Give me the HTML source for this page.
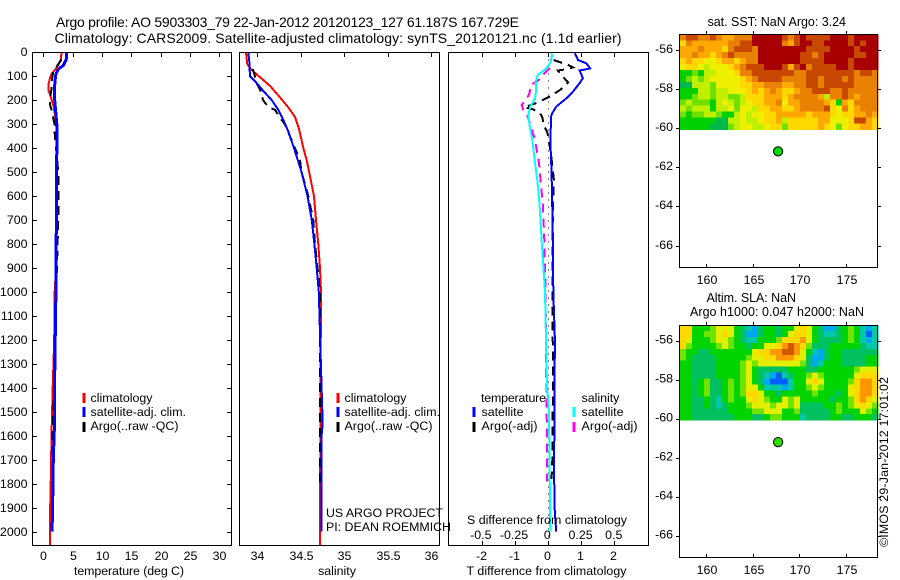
<!DOCTYPE html>
<html>
<head>
<meta charset="utf-8">
<title>Argo profile</title>
<style>
html,body{margin:0;padding:0;background:#fff;}
svg{display:block;}
text{font-family:"Liberation Sans",sans-serif;font-size:12.4px;fill:#000;}
.ttl{font-size:14px;}
.mt{font-size:12.5px;}
.fr{fill:none;stroke:#000;stroke-width:1;}
</style>
</head>
<body>
<svg id="fig" width="900" height="580" viewBox="0 0 900 580" xmlns="http://www.w3.org/2000/svg">
<rect width="900" height="580" fill="#fff"/>
<text class="ttl" x="56" y="27" textLength="463">Argo profile: AO 5903303_79 22-Jan-2012 20120123_127 61.187S 167.729E</text>
<text class="ttl" x="54.5" y="43" textLength="567">Climatology: CARS2009. Satellite-adjusted climatology: synTS_20120121.nc (1.1d earlier)</text>

<g id="marks"></g>
<g id="maps"></g>
<g id="ticks"></g>

<rect class="fr" x="32.5" y="52.5" width="199" height="493"/>
<rect class="fr" x="239.5" y="52.5" width="200" height="493"/>
<rect class="fr" x="448.5" y="52.5" width="200" height="493"/>
<rect class="fr" x="679.5" y="34.5" width="198" height="233"/>
<rect class="fr" x="679.5" y="325.5" width="198" height="232"/>

<text x="129" y="575" text-anchor="middle" textLength="110">temperature (deg C)</text>
<text x="337" y="575" text-anchor="middle">salinity</text>
<text x="546.5" y="575" text-anchor="middle" textLength="160">T difference from climatology</text>
<text x="467" y="524" textLength="160">S difference from climatology</text>

<g>
<rect x="82.5" y="393" width="3" height="10" fill="#f00"/>
<text x="90.5" y="402" textLength="62">climatology</text>
<rect x="82.5" y="407" width="3" height="10" fill="#00f"/>
<text x="90.5" y="416" textLength="95.5">satellite-adj. clim.</text>
<rect x="82.5" y="422" width="3" height="10" fill="#000"/>
<text x="90.5" y="430" textLength="88">Argo(..raw -QC)</text>
</g>
<g>
<rect x="336.5" y="393" width="3" height="10" fill="#f00"/>
<text x="344.5" y="402" textLength="62">climatology</text>
<rect x="336.5" y="407" width="3" height="10" fill="#00f"/>
<text x="344.5" y="416" textLength="95.5">satellite-adj. clim.</text>
<rect x="336.5" y="422" width="3" height="10" fill="#000"/>
<text x="344.5" y="430" textLength="88">Argo(..raw -QC)</text>
</g>
<g>
<text x="481" y="402" textLength="65">temperature</text>
<rect x="472.5" y="407" width="3" height="10" fill="#00f"/>
<text x="481.5" y="416">satellite</text>
<rect x="472.5" y="422" width="3" height="10" fill="#000"/>
<text x="481.5" y="430" textLength="56">Argo(-adj)</text>
<text x="581.5" y="402">salinity</text>
<rect x="572.5" y="407" width="3" height="10" fill="#0ff"/>
<text x="581.5" y="416">satellite</text>
<rect x="572.5" y="422" width="3" height="10" fill="#f0f"/>
<text x="581.5" y="430" textLength="56">Argo(-adj)</text>
</g>

<text x="326" y="517" textLength="117">US ARGO PROJECT</text>
<text x="326" y="531" textLength="125">PI: DEAN ROEMMICH</text>

<text class="mt" x="707.5" y="26" textLength="138.5">sat. SST: NaN Argo: 3.24</text>
<text class="mt" x="706.5" y="302" textLength="89.5">Altim. SLA: NaN</text>
<text class="mt" x="690" y="316" textLength="174">Argo h1000: 0.047 h2000: NaN</text>
<text transform="translate(888,547) rotate(-90)" textLength="170">©IMOS 29-Jan-2012 17:01:02</text>
</svg>
<script>
// ---------- profile data (depth in m; values in native units) ----------
const tempClimDepth = [0,30,50,70,90,110,130,160,180,220,260,300,400,900,1000,1200,1400,1600,1830,1950,2055];
const tempClimValue = [3.1,3.0,2.6,2.1,1.4,1.1,0.9,0.9,1.2,1.7,2.0,2.2,2.3,2.15,1.95,1.85,1.6,1.4,1.25,1.1,1.1];
const tempSatDepth = [0,30,55,70,90,120,150,200,300,400,1000,1400,1550,1700,1950,2000];
const tempSatValue = [4.0,3.9,3.4,2.55,2.15,2.0,1.9,1.95,2.3,2.3,2.15,1.9,1.9,1.7,1.55,1.45];
const tempArgoDepth = [30,60,80,110,150,180,220,240,300,330,500,700,1000,1300,1600,1700];
const tempArgoValue = [3.1,2.25,1.7,1.5,1.4,1.25,1.15,1.4,1.9,1.9,2.55,2.55,2.2,2.0,1.55,1.55];

const salClimDepth = [0,50,70,90,110,140,180,230,270,320,400,450,500,600,700,800,900,1000,1400,2055];
const salClimValue = [33.874,33.889,33.93,33.99,34.054,34.15,34.245,34.36,34.437,34.483,34.533,34.571,34.6,34.655,34.678,34.705,34.724,34.736,34.73,34.724];
const salSatDepth = [0,40,100,120,160,200,240,280,330,400,500,600,700,800,900,1000,1400,1550,1600,2000];
const salSatValue = [33.9,33.912,33.92,33.977,34.07,34.17,34.245,34.3,34.36,34.425,34.513,34.58,34.63,34.66,34.686,34.71,34.743,34.755,34.743,34.743];
const salArgoDepth = [70,100,130,160,200,230,240,270,300,400,450,500,600,700,800,900,1000,1400,1800];
const salArgoValue = [33.95,33.977,33.996,34.04,34.07,34.134,34.207,34.26,34.32,34.437,34.494,34.513,34.59,34.647,34.667,34.697,34.724,34.724,34.724];

const dtSatDepth = [4,32,46,67,76,108,129,164,192,227,261,366,505,783,1000,1200,1367,1550,1700,1900,2000];
const dtSatValue = [0.8,0.9,1.15,1.27,0.95,1.05,0.95,0.75,0.55,0.24,0.09,0.06,0.1,0.14,0.15,0.2,0.19,0.19,0.17,0.19,0.24];
const dtArgoDepth = [32,43,53,63,71,76,99,126,154,178,188,207,220,229,238,252,271,303,331,352,435,532,644,783,1000,1400,1700,1780];
const dtArgoValue = [0.16,0.39,0.6,0.75,0.55,0.29,0.42,0.6,0.39,0.12,-0.01,-0.28,-0.52,-0.72,-0.46,-0.26,-0.18,-0.14,-0.04,0,0.09,0.17,0.14,0.13,0.13,0.14,0.12,0.1];
const dsSatDepth = [4,39,67,95,122,157,192,227,261,310,366,463,532,644,783,1000,1400,1500,2000];
const dsSatValue = [0.03,0.02,-0.015,-0.08,-0.095,-0.09,-0.1,-0.135,-0.15,-0.14,-0.12,-0.1,-0.083,-0.065,-0.05,-0.025,-0.01,0.005,0.015];
const dsArgoDepth = [4,67,88,108,136,178,220,238,261,310,366,463,644,783,1000,1400,1600,1790];
const dsArgoValue = [0.03,0.01,-0.03,-0.05,-0.13,-0.145,-0.2,-0.19,-0.16,-0.13,-0.1,-0.07,-0.04,-0.03,-0.02,-0.015,-0.01,-0.01];
const zeroLineDepth = [0,2055];
const zeroLineValue = [0,0];

// ---------- tick labels ----------
const depthTicks = [0,100,200,300,400,500,600,700,800,900,1000,1100,1200,1300,1400,1500,1600,1700,1800,1900,2000];
const tempTicks = [0,5,10,15,20,25,30];
const salTicks = [34,34.5,35,35.5,36];
const dtTicks = [-2,-1,0,1,2];
const dsTicks = [-0.5,-0.25,0,0.25,0.5];
const lonTicks = [160,165,170,175];
const latTicks = [-56,-58,-60,-62,-64,-66];

// ---------- float position ----------
const floatLon = 167.729;
const floatLat = -61.187;

// ---------- map cells: 33 columns x 16 rows, each digit a colour-scale level ----------
const sstRows = [
"78877876677799999"+"8789888899989999",
"57666666778899999"+"7689988999989899",
"66676665788879999"+"9999888899998999",
"66766567877779999"+"9998878999998899",
"56554456656779999"+"9998888999989999",
"45543444567888999"+"8689788889989999",
"11213344457788888"+"8877888888887887",
"12323444445678888"+"7777887888787777",
"00333244445566777"+"6677887888887777",
"11133233444565676"+"5567788877877777",
"11233233223555666"+"5677776377876777",
"23222134323455667"+"4667777651657777",
"32333133424435566"+"5567777854756777",
"21223321134344556"+"6666566654556676",
"11111100334334556"+"3555556644458865",
"11111000234433455"+"2555556542455665"
];
const slaRows = [
"77444566643213443"+"4467643113454212",
"77445567643113443"+"4677643223454202",
"76444566543224445"+"7778643333454212",
"75444456544344667"+"8987533344444322",
"54433444444467788"+"9986421344333333",
"54333344444566778"+"8876311344333344",
"44333344445656666"+"6665312444333344",
"44333344445643333"+"3444334444445666",
"44333344445643210"+"2344565444446777",
"44345334545643100"+"0244676444457887",
"44345334545664222"+"1244565444467887",
"44345334545776443"+"4444454443467887",
"44334324544676544"+"6564444434457876",
"44334323444566656"+"6563333445456765",
"44333333444455666"+"4453333345444654",
"44333333344433455"+"4442333344334443"
];
const sstPalette = ["#00b84c","#00d000","#70e000","#c0f000","#eef000","#ffd800","#ffa800","#e88000","#c84800","#a80000"];
const slaPalette = ["#0060ff","#00a8f0","#00c8a8","#00c060","#00d400","#70e400","#e0f000","#ffd800","#ff9800","#d05800"];

// ---------- axis functions ----------
function yDepth(d){return 52.3+d*0.2397;}
function xTemp(v){return 43.3+v*5.87;}
function xSal(v){return 257+(v-34)*87;}
function xDT(v){return 548.3+v*33;}
function xDS(v){return 548.3+v*133;}
function xLon(lon){return 706+(lon-160)*9.33;}
function ySstLat(lat){return 50-(lat+56)*19.55;}
function ySlaLat(lat){return 340.7-(lat+56)*19.55;}

const NS='http://www.w3.org/2000/svg';
const marks=document.getElementById('marks');
const maps=document.getElementById('maps');
const ticks=document.getElementById('ticks');

function drawLine(depths,values,xf,color,width,dash,name){
  const el=document.createElementNS(NS,'polyline');
  
  
  el.setAttribute('points',values.map(function(v,i){return xf(v).toFixed(1)+','+yDepth(depths[i]).toFixed(1);}).join(' '));
  el.setAttribute('fill','none');
  el.setAttribute('stroke',color);
  el.setAttribute('stroke-width',width);
  if(dash){el.setAttribute('stroke-dasharray',dash);}
  el.setAttribute('shape-rendering','crispEdges');
  marks.appendChild(el);
}
function tick(x1,y1,x2,y2){
  const el=document.createElementNS(NS,'line');
  
  
  el.setAttribute('x1',x1);el.setAttribute('y1',y1);el.setAttribute('x2',x2);el.setAttribute('y2',y2);
  el.setAttribute('stroke','#000');
  el.setAttribute('shape-rendering','crispEdges');
  ticks.appendChild(el);
}
function label(x,y,str,anchor,name){
  const el=document.createElementNS(NS,'text');
  
  
  el.setAttribute('x',x);el.setAttribute('y',y);
  el.setAttribute('text-anchor',anchor);
  el.textContent=str;
  ticks.appendChild(el);
}
function drawMap(rows,palette,yLat,name){
  const lon0=157.2, lat0=-55.2, dLon=0.643, dLat=0.304;
  rows.forEach(function(row,r){
    row.split('').forEach(function(ch,c){
      const x=xLon(lon0+c*dLon), y=yLat(lat0-r*dLat);
      const el=document.createElementNS(NS,'rect');
      
      
      el.setAttribute('x',x.toFixed(1));
      el.setAttribute('y',y.toFixed(1));
      el.setAttribute('width',(dLon*9.33+0.5).toFixed(1));
      el.setAttribute('height',(dLat*19.55+0.5).toFixed(1));
      el.setAttribute('fill',palette[+ch]);
      el.setAttribute('shape-rendering','crispEdges');
      maps.appendChild(el);
    });
  });
}
function drawPoint(yLat,fill,name){
  const ring=document.createElementNS(NS,'circle');
  
  
  ring.setAttribute('cx',xLon(floatLon));
  ring.setAttribute('cy',yLat(floatLat));
  ring.setAttribute('r',4.6);
  ring.setAttribute('fill',fill);
  ring.setAttribute('stroke','#000');
  ring.setAttribute('stroke-width',1);
  maps.appendChild(ring);
}

// ---------- draw series ----------
drawLine(tempClimDepth,tempClimValue,xTemp,'#f00',2,null,'temperature-climatology-line');
drawLine(tempArgoDepth,tempArgoValue,xTemp,'#000',2,'9 6','temperature-argo-line');
drawLine(tempSatDepth,tempSatValue,xTemp,'#00f',3,null,'temperature-satellite-line');

drawLine(salClimDepth,salClimValue,xSal,'#f00',2,null,'salinity-climatology-line');
drawLine(salArgoDepth,salArgoValue,xSal,'#000',2,'9 6','salinity-argo-line');
drawLine(salSatDepth,salSatValue,xSal,'#00f',2,null,'salinity-satellite-line');

drawLine(zeroLineDepth,zeroLineValue,xDT,'#000',1,'1 6','zero-difference-line');
drawLine(dsArgoDepth,dsArgoValue,xDS,'#f0f',2,'9 6','s-difference-argo-line');
drawLine(dtArgoDepth,dtArgoValue,xDT,'#000',2,'9 6','t-difference-argo-line');
drawLine(dtSatDepth,dtSatValue,xDT,'#00f',2,null,'t-difference-satellite-line');
drawLine(dsSatDepth,dsSatValue,xDS,'#0ff',2,null,'s-difference-satellite-line');

drawMap(sstRows,sstPalette,ySstLat,'sst-cell');
drawMap(slaRows,slaPalette,ySlaLat,'sla-cell');
drawPoint(ySstLat,'#00d800','sst-float-position');
drawPoint(ySlaLat,'#30e000','sla-float-position');

// ---------- ticks and tick labels ----------
depthTicks.forEach(function(d){
  const y=Math.round(yDepth(d))+0.5;
  tick(32,y,37,y);
  tick(227,y,232,y);
  label(27.5,y+3.5,String(d),'end','depth-tick-label');
});
tempTicks.forEach(function(v){
  const x=Math.round(xTemp(v))+0.5;
  tick(x,52,x,57);
  label(x,560,String(v),'middle','temperature-tick-label');
});
salTicks.forEach(function(v){
  const x=Math.round(xSal(v))+0.5;
  tick(x,52,x,57);
  label(x,560,String(v),'middle','salinity-tick-label');
});
dtTicks.forEach(function(v){
  const x=Math.round(xDT(v))+0.5;
  tick(x,52,x,57);
  tick(x,541,x,546);
  label(x-1,560,String(v),'middle','t-difference-tick-label');
});
dsTicks.forEach(function(v){
  label(xDS(v)-1,539,String(v),'middle','s-difference-tick-label');
});
lonTicks.forEach(function(v){
  const x=Math.round(xLon(v))+0.5;
  tick(x,31,x,35);
  tick(x,264,x,268);
  tick(x,322,x,326);
  tick(x,554,x,558);
  label(x+0.5,284,String(v),'middle','sst-longitude-tick-label');
  label(x+0.5,574,String(v),'middle','sla-longitude-tick-label');
});
latTicks.forEach(function(v){
  const y1=Math.round(ySstLat(v))+0.5;
  const y2=Math.round(ySlaLat(v))+0.5;
  tick(676,y1,680,y1);
  tick(877,y1,881,y1);
  tick(676,y2,680,y2);
  tick(877,y2,881,y2);
  label(673,y1+2.5,String(v),'end','sst-latitude-tick-label');
  label(673,y2+2,String(v),'end','sla-latitude-tick-label');
});
</script>
</body>
</html>
